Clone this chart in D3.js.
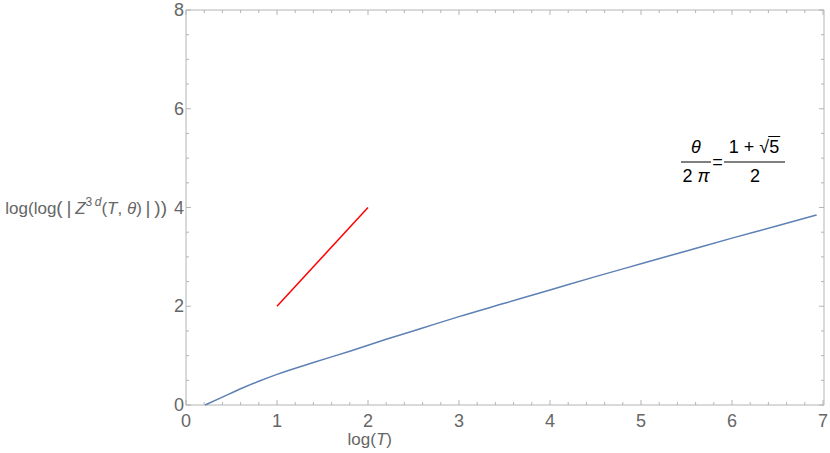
<!DOCTYPE html>
<html lang="en">
<head>
    <meta charset="UTF-8">
    <title>log log |Z 3d| vs log T</title>
    <style>
        body {
            margin: 0;
            background-color: #fff;
            font-family: "Liberation Sans", Arial, sans-serif;
        }
        .tick-label {
            fill: #666;
            font-size: 18px;
        }
        .axis-title {
            fill: #666;
            font-size: 17px;
        }
        .frame line {
            stroke: #b4b4b4;
            stroke-width: 1px;
        }
    </style>
</head>
<body>
    <div id="chart"></div>
    <script src="https://d3js.org/d3.v7.min.js"></script>
    <script>
        // Data
        const curveX = [0.21, 0.4, 0.6, 0.8, 1.0, 1.4, 1.8, 2.2, 2.6, 3.0, 3.5, 4.0, 4.5, 5.0, 5.5, 6.0, 6.5, 6.93];
        const curveY = [0.0, 0.16, 0.33, 0.48, 0.62, 0.86, 1.09, 1.33, 1.56, 1.79, 2.06, 2.33, 2.60, 2.86, 3.12, 3.38, 3.63, 3.85];
        const refX = [1, 2];
        const refY = [2, 4];
        const xTicks = [0, 1, 2, 3, 4, 5, 6, 7];
        const yTicks = [0, 2, 4, 6, 8];

        const width = 830;
        const height = 453;
        const pLeft = 186, pRight = 823, pTop = 10, pBottom = 405;

        const svg = d3.select("#chart").append("svg")
            .attr("width", width)
            .attr("height", height);

        const x = d3.scaleLinear().domain([0, 7]).range([pLeft, pRight]);
        const y = d3.scaleLinear().domain([0, 8]).range([pBottom, pTop]);

        // frame with ticks on all four sides
        const frame = svg.append("g").attr("class", "frame");
        frame.append("line").attr("x1", pLeft).attr("x2", pRight + 1).attr("y1", pBottom).attr("y2", pBottom);
        frame.append("line").attr("x1", pLeft).attr("x2", pRight + 1).attr("y1", pTop).attr("y2", pTop);
        frame.append("line").attr("x1", pLeft).attr("x2", pLeft).attr("y1", pTop).attr("y2", pBottom);
        frame.append("line").attr("x1", pRight + 1).attr("x2", pRight + 1).attr("y1", pTop).attr("y2", pBottom);

        const xMinor = d3.range(0, 7.001, 0.2);
        xMinor.forEach(v => {
            const major = Math.abs(v - Math.round(v)) < 1e-6;
            const len = major ? 5 : 3;
            frame.append("line").attr("x1", x(v)).attr("x2", x(v)).attr("y1", pBottom).attr("y2", pBottom - len);
            frame.append("line").attr("x1", x(v)).attr("x2", x(v)).attr("y1", pTop).attr("y2", pTop + len);
        });
        const yMinor = d3.range(0, 8.001, 0.5);
        yMinor.forEach(v => {
            const major = Math.abs(v / 2 - Math.round(v / 2)) < 1e-6;
            const len = major ? 5 : 3;
            frame.append("line").attr("x1", pLeft).attr("x2", pLeft + len).attr("y1", y(v)).attr("y2", y(v));
            frame.append("line").attr("x1", pRight + 1).attr("x2", pRight + 1 - len).attr("y1", y(v)).attr("y2", y(v));
        });

        // tick labels
        svg.selectAll(".xlab").data(xTicks).enter().append("text")
            .attr("class", "tick-label")
            .attr("x", d => x(d))
            .attr("y", 427)
            .attr("text-anchor", "middle")
            .text(d => d);
        svg.selectAll(".ylab").data(yTicks).enter().append("text")
            .attr("class", "tick-label")
            .attr("x", pLeft - 2)
            .attr("y", d => y(d) + 6)
            .attr("text-anchor", "end")
            .text(d => d);

        // axis titles
        const xt = svg.append("text").attr("class", "axis-title")
            .attr("x", x(2.02)).attr("y", 445).attr("text-anchor", "middle")
            .attr("font-size", "18px");
        xt.append("tspan").text("log(");
        xt.append("tspan").attr("font-style", "italic").text("T");
        xt.append("tspan").text(")");

        const yt = svg.append("text").attr("class", "axis-title")
            .attr("x", 167).attr("y", 214).attr("text-anchor", "end");
        yt.append("tspan").text("log(log");
        yt.append("tspan").attr("font-size", "19px").text("(\u2009|\u2009");
        yt.append("tspan").attr("font-style", "italic").text("Z");
        yt.append("tspan").attr("font-size", "12px").attr("dy", -8).text("3\u2009");
        yt.append("tspan").attr("font-size", "12px").attr("font-style", "italic").text("d");
        yt.append("tspan").attr("dy", 8).text("(");
        yt.append("tspan").attr("font-style", "italic").text("T");
        yt.append("tspan").text(", ");
        yt.append("tspan").attr("font-style", "italic").text("\u03b8");
        yt.append("tspan").text(")");
        yt.append("tspan").attr("font-size", "19px").text("\u2009|\u2009))");

        // curves
        const line = d3.line().x(d => x(d[0])).y(d => y(d[1])).curve(d3.curveMonotoneX);
        svg.append("path")
            .datum(d3.zip(curveX, curveY))
            .attr("d", line)
            .attr("fill", "none")
            .attr("stroke", "#5e81b5")
            .attr("stroke-width", 1.5);
        svg.append("path")
            .datum(d3.zip(refX, refY))
            .attr("d", line)
            .attr("fill", "none")
            .attr("stroke", "#ff0000")
            .attr("stroke-width", 1.5);

        // annotation theta / 2pi = (1 + sqrt5) / 2
        const ann = svg.append("g").attr("font-size", "18px").attr("fill", "#000");
        ann.append("text").attr("x", 696).attr("y", 153).attr("text-anchor", "middle")
            .attr("font-style", "italic").text("\u03b8");
        ann.append("line").attr("x1", 681).attr("x2", 711).attr("y1", 162).attr("y2", 162)
            .attr("stroke", "#000").attr("stroke-width", 1);
        const den = ann.append("text").attr("x", 696).attr("y", 182).attr("text-anchor", "middle");
        den.append("tspan").text("2 ");
        den.append("tspan").attr("font-style", "italic").text("\u03c0");
        ann.append("text").attr("x", 717.5).attr("y", 168).attr("text-anchor", "middle").text("=");
        const num = ann.append("text").attr("x", 754).attr("y", 153).attr("text-anchor", "middle").text("1 + \u221a5");
        const n = num.node();
        const barStart = n.getEndPositionOfChar(4).x - 1;
        const barEnd = n.getEndPositionOfChar(5).x + 1;
        ann.append("line").attr("x1", barStart).attr("x2", barEnd).attr("y1", 136.5).attr("y2", 136.5)
            .attr("stroke", "#000").attr("stroke-width", 1);
        ann.append("line").attr("x1", 724).attr("x2", 785).attr("y1", 162).attr("y2", 162)
            .attr("stroke", "#000").attr("stroke-width", 1);
        ann.append("text").attr("x", 755).attr("y", 182).attr("text-anchor", "middle").text("2");
    </script>
</body>
</html>
